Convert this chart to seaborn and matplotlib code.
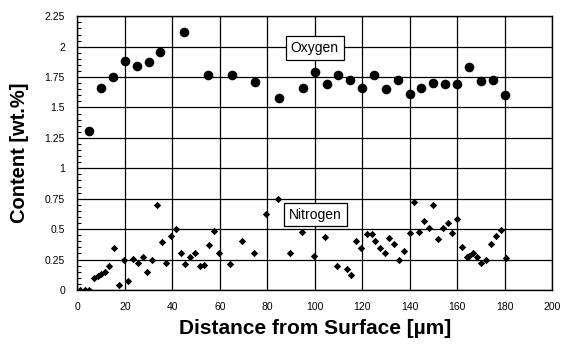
import matplotlib
matplotlib.use("Agg")
import matplotlib.pyplot as plt
import seaborn as sns
import pandas as pd
from matplotlib.ticker import MultipleLocator

# ---- data ----
oxygen_x = [5, 10, 15, 20, 25, 30, 35, 45, 55, 65, 75, 85, 95, 100, 105, 110, 115,
            120, 125, 130, 135, 140, 145, 150, 155, 160, 165, 170, 175, 180]
oxygen_y = [1.31, 1.66, 1.75, 1.88, 1.84, 1.87, 1.96, 2.12, 1.77, 1.77, 1.71, 1.58,
            1.66, 1.79, 1.69, 1.77, 1.73, 1.66, 1.77, 1.65, 1.73, 1.61, 1.66, 1.70,
            1.69, 1.69, 1.83, 1.72, 1.73, 1.60]

nitrogen_x = [1, 3, 5, 7, 8.5, 10, 11.5, 13.5, 15.5, 17.5, 19.5, 21.5, 23.5, 25.5,
              27.5, 29.5, 31.5, 33.5, 35.5, 37.5, 39.5, 41.5, 43.5, 45.5, 47.5, 49.5,
              51.5, 53.5, 55.5, 57.5, 59.5, 64.5, 69.5, 74.5, 79.5, 84.5, 89.5, 94.5,
              99.5, 104.5, 109.5, 113.5, 115.5, 117.5, 119.5, 122, 124, 125.5, 127.5,
              129.5, 131.5, 133.5, 135.5, 137.5, 140, 142, 144, 146, 148, 150, 152,
              154, 156, 158, 160, 162, 164, 165, 166.5, 168.5, 170, 172, 174.5, 176.5,
              178.5, 180.5]
nitrogen_y = [0.0, 0.0, 0.0, 0.096, 0.118, 0.13, 0.148, 0.197, 0.345, 0.044, 0.247,
              0.074, 0.252, 0.225, 0.274, 0.146, 0.247, 0.70, 0.395, 0.22, 0.447, 0.50,
              0.30, 0.214, 0.27, 0.30, 0.197, 0.208, 0.37, 0.488, 0.30, 0.21, 0.40,
              0.30, 0.625, 0.748, 0.30, 0.48, 0.277, 0.433, 0.20, 0.173, 0.12, 0.405,
              0.348, 0.463, 0.46, 0.405, 0.348, 0.307, 0.43, 0.38, 0.25, 0.32, 0.47,
              0.72, 0.48, 0.57, 0.51, 0.70, 0.417, 0.51, 0.55, 0.47, 0.58, 0.35, 0.27,
              0.28, 0.30, 0.27, 0.22, 0.25, 0.376, 0.444, 0.49, 0.26]

x_ticks = [0, 20, 40, 60, 80, 100, 120, 140, 160, 180, 200]
y_ticks = [0, 0.25, 0.5, 0.75, 1, 1.25, 1.5, 1.75, 2, 2.25]
y_tick_labels = ["0", "0.25", "0.5", "0.75", "1", "1.25", "1.5", "1.75", "2", "2.25"]

x_label = "Distance from Surface [µm]"
y_label = "Content [wt.%]"
series_labels = ["Oxygen", "Nitrogen"]

# ---- plotting ----
sns.set_style("white")
plt.rcParams["font.family"] = ["Liberation Sans", "DejaVu Sans"]
plt.rcParams["text.color"] = "black"
plt.rcParams["axes.labelcolor"] = "black"

fig = plt.figure(figsize=(5.65, 3.46), dpi=100)
ax = fig.add_axes([0.137, 0.162, 0.840, 0.791])

df_o = pd.DataFrame({"x": oxygen_x, "y": oxygen_y})
df_n = pd.DataFrame({"x": nitrogen_x, "y": nitrogen_y})

sns.scatterplot(data=df_o, x="x", y="y", ax=ax, marker="o", s=48,
                color="black", edgecolor="black", linewidth=0, zorder=3)
sns.scatterplot(data=df_n, x="x", y="y", ax=ax, marker="D", s=14,
                color="black", edgecolor="black", linewidth=0, zorder=3)

ax.set_xlim(0, 200)
ax.set_ylim(0, 2.25)
ax.set_xticks(x_ticks)
ax.set_xticklabels([str(t) for t in x_ticks])
ax.set_yticks(y_ticks)
ax.set_yticklabels(y_tick_labels)
ax.yaxis.set_minor_locator(MultipleLocator(0.05))

ax.grid(True, which="major", color="black", linewidth=0.9)
ax.set_axisbelow(True)
for sp in ax.spines.values():
    sp.set_color("black")
    sp.set_linewidth(1.0)

ax.tick_params(axis="both", which="major", direction="in", length=0,
               labelsize=7.5, pad=9, colors="black")
ax.tick_params(axis="y", which="minor", direction="in", length=3,
               width=0.8, color="black", left=True)

ax.set_xlabel(x_label, fontsize=15, fontweight="bold", labelpad=5, color="black")
ax.set_ylabel(y_label, fontsize=14.5, fontweight="bold", labelpad=11, color="black")

box = dict(boxstyle="square,pad=0.35", facecolor="white", edgecolor="black", linewidth=0.9)
ax.text(100, 1.99, series_labels[0], ha="center", va="center", fontsize=10,
        bbox=box, zorder=4, color="black")
ax.text(100.3, 0.62, series_labels[1], ha="center", va="center", fontsize=10,
        bbox=box, zorder=4, color="black")

fig.savefig("out.png", dpi=100)
